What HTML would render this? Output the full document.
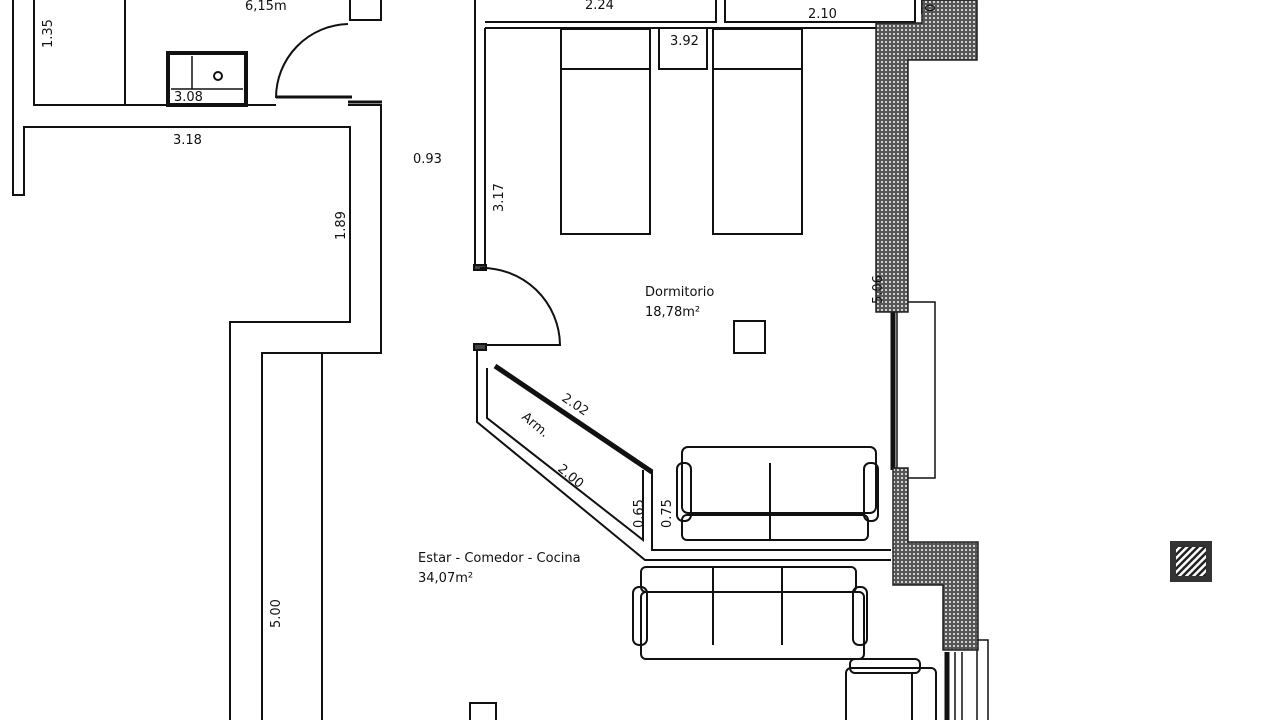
<!DOCTYPE html>
<html><head><meta charset="utf-8"><style>
html,body{margin:0;padding:0;background:#fff}
svg{display:block}
text{font-family:"DejaVu Sans","Liberation Sans",sans-serif;font-size:13px;fill:#111}
</style></head><body>
<svg width="1280" height="720" viewBox="0 0 1280 720" xmlns="http://www.w3.org/2000/svg">
<defs>
<pattern id="h" width="4" height="4" patternUnits="userSpaceOnUse">
<rect width="4" height="4" fill="#555"/><circle cx="2" cy="2" r="1.1" fill="#ddd"/>
</pattern>
<pattern id="d" width="5" height="5" patternUnits="userSpaceOnUse" patternTransform="rotate(45)">
<rect width="5" height="5" fill="#222"/><rect width="2.5" height="5" fill="#fff"/>
</pattern>
</defs>
<g fill="none" stroke="#111" stroke-width="2">
<path d="M13 0V195H24V127H350V322H230V720"/>
<path d="M34 0V105H168M247 105H276M348 105H381V353H262V720"/>
<path d="M322 353V720"/>
<path d="M125 0V104"/>
<rect x="168" y="53" width="78" height="52" stroke-width="4"/>
<path d="M171 89H243M192 56V89" stroke-width="1.5"/>
<circle cx="218" cy="76" r="4"/>
<path d="M350 0V20H381V0"/>
<path d="M348 24A74 74 0 0 0 276 98"/>
<path d="M276 97H352" stroke-width="3"/>
<path d="M348 102H382" stroke-width="3"/>
<path d="M475 0V268M485 28V268"/>
<rect x="474" y="265" width="12" height="5" fill="#444"/>
<path d="M480 268A78 78 0 0 1 560 345H485"/>
<rect x="474" y="344" width="12" height="6" fill="#444"/>
<path d="M485 22H716V0M725 0V22H915V0M485 28H876"/>
<path d="M922 0V14"/>
<rect x="561" y="29" width="89" height="205"/>
<path d="M561 69H650"/>
<rect x="713" y="29" width="89" height="205"/>
<path d="M713 69H802"/>
<path d="M659 29V69H707V29"/>
<rect x="734" y="321" width="31" height="32"/>
<path d="M477 350V422L645 560H891"/>
<path d="M487 368V418L643 540V470"/>
<path d="M652 470V550H891"/>
<path d="M495 366L652 472" stroke-width="5"/>
<rect x="682" y="447" width="194" height="66" rx="6"/>
<rect x="677" y="463" width="14" height="58" rx="6"/>
<rect x="864" y="463" width="14" height="58" rx="6"/>
<rect x="682" y="515" width="186" height="25" rx="5"/>
<path d="M770 463V515M770 515V540"/>
<rect x="641" y="567" width="215" height="25" rx="5"/>
<rect x="641" y="592" width="223" height="67" rx="5"/>
<rect x="633" y="587" width="14" height="58" rx="6"/>
<rect x="853" y="587" width="14" height="58" rx="6"/>
<path d="M713 567V645M782 567V645"/>
<rect x="850" y="659" width="70" height="14" rx="5"/>
<rect x="846" y="668" width="90" height="60" rx="5"/>
<path d="M912 672V720"/>
<rect x="897" y="302" width="38" height="176" stroke-width="1.5"/>
<path d="M893 312V470" stroke-width="5"/>
<rect x="977" y="640" width="11" height="90" stroke-width="1.5"/>
<path d="M947 652V720" stroke-width="5"/>
<path d="M955 652V720M962 652V720" stroke-width="1.5"/>
<path d="M470 720V703H496V720"/>
</g>
<g fill="url(#h)" stroke="#222" stroke-width="1.5">
<path d="M876 23H922V0H977V60H908V312H876Z"/>
<path d="M893 468H908V542H978V650H943V585H893Z"/>
</g>
<rect x="1170" y="541" width="42" height="41" fill="#333"/>
<rect x="1176" y="547" width="30" height="29" fill="url(#d)"/>
<text x="245" y="10">6,15m</text>
<text transform="translate(52 48) rotate(-90)">1.35</text>
<text x="174" y="101">3.08</text>
<text x="173" y="144">3.18</text>
<text x="413" y="163">0.93</text>
<text transform="translate(345 240) rotate(-90)">1.89</text>
<text transform="translate(280 628) rotate(-90)">5.00</text>
<text x="585" y="9">2.24</text>
<text x="808" y="18">2.10</text>
<text transform="translate(935 12) rotate(-90)">0</text>
<text x="670" y="45">3.92</text>
<text transform="translate(503 212) rotate(-90)">3.17</text>
<text x="645" y="296">Dormitorio</text>
<text x="645" y="316">18,78m²</text>
<text transform="translate(882 304) rotate(-90)">5.06</text>
<text transform="translate(561 400) rotate(34)">2.02</text>
<text transform="translate(521 418) rotate(40)">Arm.</text>
<text transform="translate(557 470) rotate(40)">2.00</text>
<text transform="translate(643 528) rotate(-90)">0.65</text>
<text transform="translate(671 528) rotate(-90)">0.75</text>
<text x="418" y="562">Estar - Comedor - Cocina</text>
<text x="418" y="582">34,07m²</text>
</svg>
</body></html>
